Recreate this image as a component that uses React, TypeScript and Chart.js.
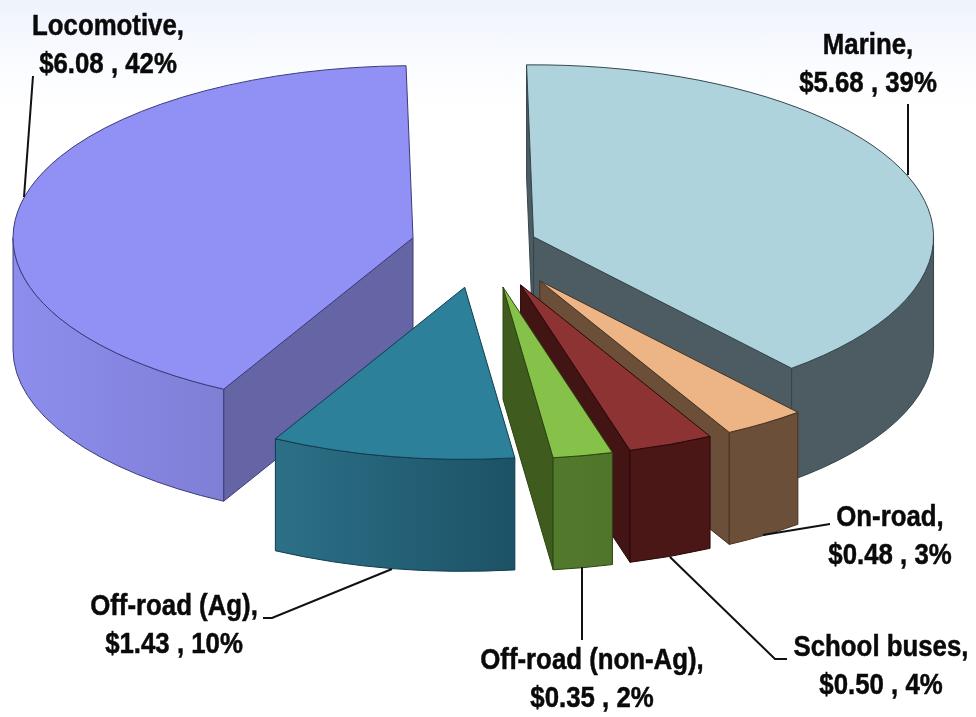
import React, { useEffect, useRef } from "react";
import { Chart, registerables } from "chart.js";

Chart.register(...registerables);

// Annual cost by sector, in order clockwise from twelve o'clock.
const categories = ["Marine", "On-road", "School buses", "Off-road (non-Ag)", "Off-road (Ag)", "Locomotive"];
const values = [5.68, 0.48, 0.5, 0.35, 1.43, 6.08];
const percents = [39, 3, 4, 2, 10, 42];

const topColors = ["#aed3dc", "#edb585", "#8e3333", "#86c14a", "#2d8099", "#9090f5"];
const wallLeft = ["#4d5c62", "#6c4f38", "#4a1616", "#527a2c", "#2c7088", "#8d8dee"];
const wallRight = ["#4d5c62", "#6c4f38", "#4a1616", "#4f752a", "#1c5266", "#7f7fd6"];
const faceColors = ["#4d5c62", "#6c4f38", "#431414", "#3f5c1e", "#1c5266", "#6565a5"];
const edgeColors = ["#34454c", "#463222", "#2a0808", "#2c4412", "#103c4e", "#3c3c7c"];

// Distance each wedge is pulled away from the centre of the pie.
const explode = [54, 101, 100, 100, 100, 72];
// Wedges are painted back to front.
const paintOrder = [0, 5, 4, 1, 2, 3];

const PIE_RADIUS = 400;
const TILT = 0.43;
const DEPTH = 112;

// Label centres and leader-line polylines, in category order.
const labelCentres = [
  [868, 46],
  [890, 518],
  [881, 648],
  [592, 661],
  [174, 607],
  [108, 27],
];
const leaders = [
  [[908, 104], [908, 175]],
  [[763, 535], [830, 524]],
  [[670, 557], [775, 659], [787, 659]],
  [[582, 567], [582, 640]],
  [[392, 569], [272, 618], [263, 618]],
  [[33, 76], [24, 197]],
];
const LINE_GAP = 38;
const TEXT_SQUEEZE = 0.86;

const extrudedPie = {
  id: "extrudedPie",
  beforeDatasetsDraw(chart: any) {
    const { ctx } = chart;
    const arcs = chart.getDatasetMeta(0).data;
    for (const i of paintOrder) {
      const arc = arcs[i];
      const { x, y, startAngle: a0, endAngle: a1, outerRadius: r } = arc;
      const mid = (a0 + a1) / 2;
      const ox = x + Math.cos(mid) * explode[i];
      const oy = y + Math.sin(mid) * explode[i] * TILT;
      const rim = (a: number): [number, number] => [ox + r * Math.cos(a), oy + r * TILT * Math.sin(a)];

      ctx.save();
      ctx.lineWidth = 1;
      ctx.lineJoin = "round";
      ctx.strokeStyle = edgeColors[i];

      // Flat cut faces that turn towards the viewer.
      const face = (a: number) => {
        const [px, py] = rim(a);
        ctx.beginPath();
        ctx.moveTo(ox, oy);
        ctx.lineTo(px, py);
        ctx.lineTo(px, py + DEPTH);
        ctx.lineTo(ox, oy + DEPTH);
        ctx.closePath();
        ctx.fillStyle = faceColors[i];
        ctx.fill();
        ctx.stroke();
      };
      if (Math.sin(a0 - Math.PI / 2) > 0) face(a0);
      if (Math.sin(a1 + Math.PI / 2) > 0) face(a1);

      // Curved outer wall, only on the near half of the rim.
      const w0 = Math.max(a0, 0);
      const w1 = Math.min(a1, Math.PI);
      if (w1 > w0) {
        const xs = [rim(w0)[0], rim(w1)[0]];
        const grad = ctx.createLinearGradient(Math.min(...xs), 0, Math.max(...xs), 0);
        grad.addColorStop(0, wallLeft[i]);
        grad.addColorStop(1, wallRight[i]);
        ctx.beginPath();
        ctx.ellipse(ox, oy, r, r * TILT, 0, w0, w1, false);
        ctx.ellipse(ox, oy + DEPTH, r, r * TILT, 0, w1, w0, true);
        ctx.closePath();
        ctx.fillStyle = grad;
        ctx.fill();
        ctx.stroke();
      }

      // Top of the wedge: the arc element itself, flattened and moved out.
      ctx.save();
      ctx.translate(ox, oy);
      ctx.scale(1, TILT);
      ctx.translate(-x, -y);
      arc.draw(ctx);
      ctx.restore();

      const [sx, sy] = rim(a0);
      ctx.beginPath();
      ctx.moveTo(ox, oy);
      ctx.lineTo(sx, sy);
      ctx.ellipse(ox, oy, r, r * TILT, 0, a0, a1, false);
      ctx.closePath();
      ctx.stroke();
      ctx.restore();
    }
    return false;
  },
  afterDraw(chart: any) {
    const { ctx } = chart;
    ctx.save();
    ctx.strokeStyle = "#111111";
    ctx.lineWidth = 2;
    for (const path of leaders) {
      ctx.beginPath();
      path.forEach(([px, py], k) => (k ? ctx.lineTo(px, py) : ctx.moveTo(px, py)));
      ctx.stroke();
    }
    ctx.fillStyle = "#0a0a0a";
    ctx.strokeStyle = "#0a0a0a";
    ctx.lineWidth = 0.5;
    ctx.font = 'bold 30px "Liberation Sans", Arial, sans-serif';
    ctx.textAlign = "center";
    ctx.textBaseline = "middle";
    categories.forEach((name, i) => {
      const [cx, cy] = labelCentres[i];
      const lines = [`${name},`, `$${values[i].toFixed(2)} , ${percents[i]}%`];
      lines.forEach((line, k) => {
        ctx.save();
        ctx.translate(cx, cy + k * LINE_GAP);
        ctx.scale(TEXT_SQUEEZE, 1);
        ctx.fillText(line, 0, 0);
        ctx.strokeText(line, 0, 0);
        ctx.restore();
      });
    });
    ctx.restore();
  },
};

export default function App() {
  const canvasRef = useRef<HTMLCanvasElement>(null);
  useEffect(() => {
    document.body.style.margin = "0";
    const chart = new Chart(canvasRef.current!, {
      type: "pie",
      data: {
        labels: categories,
        datasets: [
          {
            data: values,
            backgroundColor: topColors,
            borderWidth: 0,
            radius: PIE_RADIUS,
          } as any,
        ],
      },
      options: {
        responsive: false,
        animation: false,
        rotation: -1,
        layout: { padding: { left: 0, top: 0, right: 10, bottom: 227 } },
        plugins: { legend: { display: false }, tooltip: { enabled: false } },
      },
      plugins: [extrudedPie],
    });
    return () => chart.destroy();
  }, []);
  return (
    <canvas
      ref={canvasRef}
      width={976}
      height={717}
      style={{
        display: "block",
        background: "linear-gradient(to bottom, #eef3fc 0px, #fbfcff 70px, #ffffff 110px, #ffffff 100%)",
      }}
    />
  );
}
